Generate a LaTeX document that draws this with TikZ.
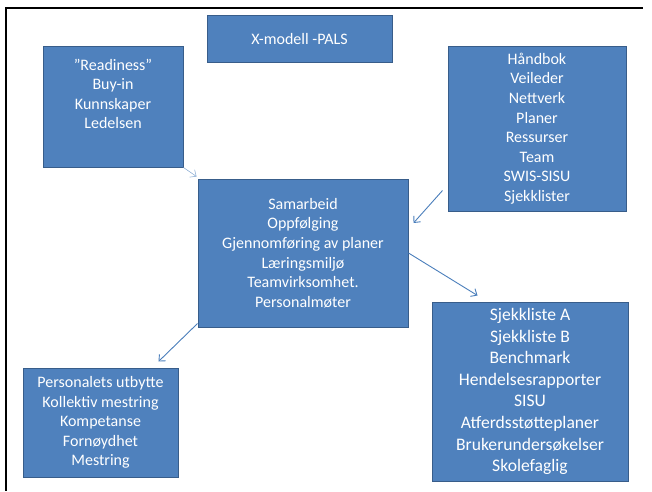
\documentclass[tikz,border=0pt]{standalone}
\usepackage{fontspec}
\setmainfont{Carlito}
\usepackage{tikz}
\usetikzlibrary{arrows.meta}

\definecolor{boxblue}{HTML}{4F81BD}
\definecolor{boxedge}{HTML}{385D8A}
\definecolor{pilblue}{HTML}{4A7EBB}

\tikzset{
    boks/.style={draw=boxedge, line width=1pt, fill=boxblue, text=white,
        align=center, inner sep=0pt, font=\fontsize{16}{19.6}\selectfont},
    pil/.style={draw=pilblue, line width=.9pt, -{Straight Barb[length=5pt,width=9pt]}}
}

\begin{document}
\begin{tikzpicture}[x=1pt, y=-1pt]
            \useasboundingbox (0, 0) rectangle (652, 491);
            %ramme: bare topp og venstre side
            \draw[line width=2pt] (5, 8) -- (643, 8);
            \draw[line width=2pt] (6, 8) -- (6, 491);

            \node[boks, minimum width=185pt, minimum height=47pt] (tittel) at (299.5, 38.5) {X-modell -PALS};
            \node[boks, minimum width=140pt, minimum height=121pt] (rd) at (113, 106.5)
                {''Readiness''\\Buy-in\\Kunnskaper\\Ledelsen\\ \strut};
            \node[boks, minimum width=178pt, minimum height=165pt] (hb) at (537, 128.5)
                {Håndbok\\Veileder\\Nettverk\\Planer\\Ressurser\\Team\\SWIS-SISU\\Sjekklister};
            \node[boks, minimum width=210pt, minimum height=148pt] (sam) at (303, 253)
                {Samarbeid\\Oppfølging\\Gjennomføring av planer\\Læringsmiljø\\Teamvirksomhet.\\Personalmøter};
            \node[boks, minimum width=196pt, minimum height=179pt, font=\fontsize{17.6}{21.6}\selectfont] (br) at (530, 391.5)
                {Sjekkliste A\\Sjekkliste B\\Benchmark\\Hendelsesrapporter\\SISU\\Atferdsstøtteplaner\\Brukerundersøkelser\\Skolefaglig};
            \node[boks, minimum width=155pt, minimum height=109pt] (bl) at (100.5, 422.5)
                {Personalets utbytte\\Kollektiv mestring\\Kompetanse\\Fornøydhet\\Mestring};

            %piler
            \draw[pil, draw=pilblue!70, line width=.5pt] (rd.south east) -- ([xshift=-1pt, yshift=2pt]sam.north west);
            \draw[pil] ([xshift=-5pt, yshift=21pt]hb.south west) -- ([xshift=5pt, yshift=30pt]sam.east);
            \draw[pil] (sam.east) -- ([xshift=46pt, yshift=6pt]br.north west);
            \draw[pil] ([yshift=4pt]sam.south west) -- ([xshift=-20pt, yshift=6pt]bl.north east);
        \end{tikzpicture}
\end{document}
